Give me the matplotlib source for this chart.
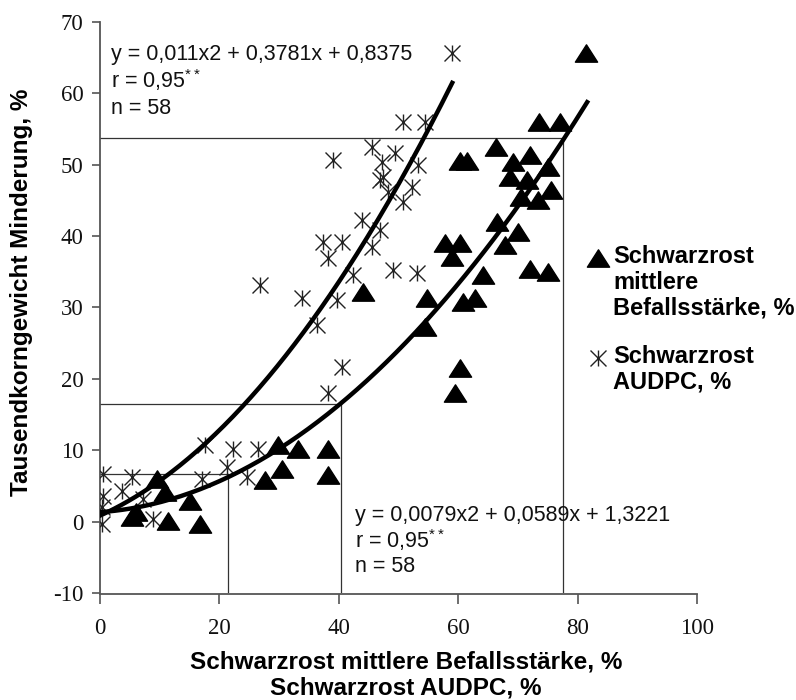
import numpy as np
import matplotlib
matplotlib.use("Agg")
import matplotlib.pyplot as plt
from matplotlib.path import Path

plt.rcParams['font.family'] = ['Liberation Sans', 'DejaVu Sans']
plt.rcParams['mathtext.fontset'] = 'custom'
plt.rcParams['mathtext.rm'] = 'Liberation Sans'
plt.rcParams['axes.unicode_minus'] = False

# Schwarzrost mittlere Befallsstärke (triangles)
befall_x = [81.4, 73.5, 77.1, 66.3, 60.3, 61.5, 72.0, 69.2, 75.0, 68.7, 71.5, 75.6,
            70.5, 73.4, 66.5, 70.0, 67.8, 57.8, 60.3, 59.0, 72.0, 75.0, 64.2, 54.8,
            62.8, 60.8, 54.4, 60.3, 59.5, 44.0,
            29.8, 33.2, 38.2, 30.5, 27.6, 38.2, 9.5, 10.9, 15.1, 16.8, 5.4, 11.4, 6.0]
befall_y = [65.6, 56.0, 56.0, 52.4, 50.5, 50.5, 51.4, 50.3, 49.6, 48.2, 47.8, 46.4,
            45.4, 45.0, 41.9, 40.5, 38.7, 39.0, 39.0, 37.0, 35.4, 34.9, 34.5, 31.3,
            31.3, 30.7, 27.2, 21.5, 18.0, 32.1,
            10.7, 10.2, 10.2, 7.4, 5.8, 6.5, 6.0, 4.1, 2.9, -0.3, 0.6, 0.1, 1.3]

# Schwarzrost AUDPC (asterisks)
audpc_x = [59.0, 50.8, 54.4, 39.0, 45.6, 49.4, 53.3, 47.2, 47.4, 52.3, 48.2, 46.9,
           50.8, 43.9, 46.9, 37.4, 40.5, 45.6, 38.2, 49.0, 53.1, 26.8, 42.4, 33.8,
           39.7, 36.3, 40.5, 38.2,
           17.6, 22.3, 26.5, 21.3, 17.1, 24.6, 0.5, 5.4, 0.5, 3.7, 0.3, 0.3, 8.9, 7.2]
audpc_y = [65.6, 56.0, 56.0, 50.6, 52.5, 51.6, 49.9, 50.4, 48.2, 46.8, 46.1, 47.8,
           44.7, 42.2, 40.8, 39.1, 39.1, 38.4, 36.9, 35.2, 34.8, 33.1, 34.5, 31.3,
           31.0, 27.5, 21.6, 18.0,
           10.7, 10.2, 10.2, 7.6, 6.0, 6.2, 6.7, 6.2, 3.6, 4.3, 2.0, -0.3, 0.4, 3.2]

# regression coefficients (quadratic) and fitted x ranges
audpc_coef = [0.011, 0.3781, 0.8375]
audpc_xmax = 59.0
befall_coef = [0.0079, 0.0589, 1.3221]
befall_xmax = 81.6

# drop lines
ref_x = [21.4, 40.3, 77.5]
ref_y = [6.7, 16.5, 53.7]

eq_upper = ["y = 0,011x2 + 0,3781x + 0,8375", r"r = 0,95$^{**}$", "n = 58"]
eq_upper_y = [65.4, 61.8, 57.9]
eq_lower = ["y = 0,0079x2 + 0,0589x + 1,3221", r"r = 0,95$^{**}$", "n = 58"]
eq_lower_y = [0.9, -2.6, -6.3]

xticks = [0, 20, 40, 60, 80, 100]
yticks = [-10, 0, 10, 20, 30, 40, 50, 60, 70]

tri = Path([(0, 0.78), (-1, -0.78), (1, -0.78), (0, 0.78)],
           [Path.MOVETO, Path.LINETO, Path.LINETO, Path.CLOSEPOLY])
star = Path([(-1, -1), (1, 1), (-1, 1), (1, -1), (0, -1), (0, 1)],
            [Path.MOVETO, Path.LINETO, Path.MOVETO, Path.LINETO, Path.MOVETO, Path.LINETO])

fig = plt.figure(figsize=(7.96, 7.0), dpi=100)
ax = fig.add_axes([100 / 796, 1 - 593 / 700, 597 / 796, (593 - 21.7) / 700])

for xr, yr in zip(ref_x, ref_y):
    ax.plot([0, xr], [yr, yr], color='#333333', lw=0.9, zorder=1)
    ax.plot([xr, xr], [-10, yr], color='#333333', lw=0.9, zorder=1)

ax.plot(audpc_x, audpc_y, linestyle='none', marker=star, markersize=11.5,
        markerfacecolor='none', markeredgecolor='#222222', markeredgewidth=1.0, zorder=3)
ax.plot(befall_x, befall_y, linestyle='none', marker=tri, markersize=16,
        color='black', zorder=4)

xa = np.linspace(0, audpc_xmax, 200)
ax.plot(xa, np.polyval(audpc_coef, xa), color='black', lw=3.2, zorder=5)
xb = np.linspace(0, befall_xmax, 200)
ax.plot(xb, np.polyval(befall_coef, xb), color='black', lw=3.2, zorder=5)

for s, yy in zip(eq_upper, eq_upper_y):
    ax.text(1.8, yy, s, fontsize=15.5, va='center', ha='left', color='#111111', zorder=6)
for s, yy in zip(eq_lower, eq_lower_y):
    ax.text(42.7, yy, s, fontsize=15.5, va='center', ha='left', color='#111111', zorder=6)

ax.set_xlim(0, 100)
ax.set_ylim(-10, 70)
ax.set_xticks(xticks)
ax.set_yticks(yticks)
for sp in ['top', 'right']:
    ax.spines[sp].set_visible(False)
for sp in ['left', 'bottom']:
    ax.spines[sp].set_color('#555555')
    ax.spines[sp].set_linewidth(1.3)
ax.spines['bottom'].set_position(('outward', 1))
ax.tick_params(axis='both', direction='out', color='#555555', width=1.2,
               labelsize=16.5, labelcolor='#111111')
ax.tick_params(axis='x', length=7, pad=10)
ax.tick_params(axis='y', length=6, pad=6)
for lab in ax.get_xticklabels() + ax.get_yticklabels():
    lab.set_fontfamily('Liberation Serif')

fig.text(406 / 796, 1 - 662 / 700, "Schwarzrost mittlere Befallsstärke, %",
         fontsize=17.5, fontweight='bold', ha='center', va='center')
fig.text(406 / 796, 1 - 688 / 700, "Schwarzrost AUDPC, %",
         fontsize=17.5, fontweight='bold', ha='center', va='center')
fig.text(22 / 796, 1 - 292 / 700, "Tausendkorngewicht Minderung, %",
         fontsize=17.5, fontweight='bold', ha='center', va='center', rotation=90)

# legend, drawn by hand
fig.lines.append(plt.Line2D([598 / 796], [1 - 258 / 700], transform=fig.transFigure,
                            marker=tri, markersize=16, color='black', linestyle='none'))
fig.lines.append(plt.Line2D([598 / 796], [1 - 358 / 700], transform=fig.transFigure,
                            marker=star, markersize=11.5, markerfacecolor='none',
                            markeredgecolor='#222222', markeredgewidth=1.0, linestyle='none'))
fig.text(613 / 796, 1 - 245 / 700, "Schwarzrost\nmittlere\nBefallsstärke, %",
         fontsize=17, fontweight='bold', ha='left', va='top', linespacing=1.15)
fig.text(613 / 796, 1 - 345 / 700, "Schwarzrost\nAUDPC, %",
         fontsize=17, fontweight='bold', ha='left', va='top', linespacing=1.15)

fig.savefig("out.png", dpi=100)
